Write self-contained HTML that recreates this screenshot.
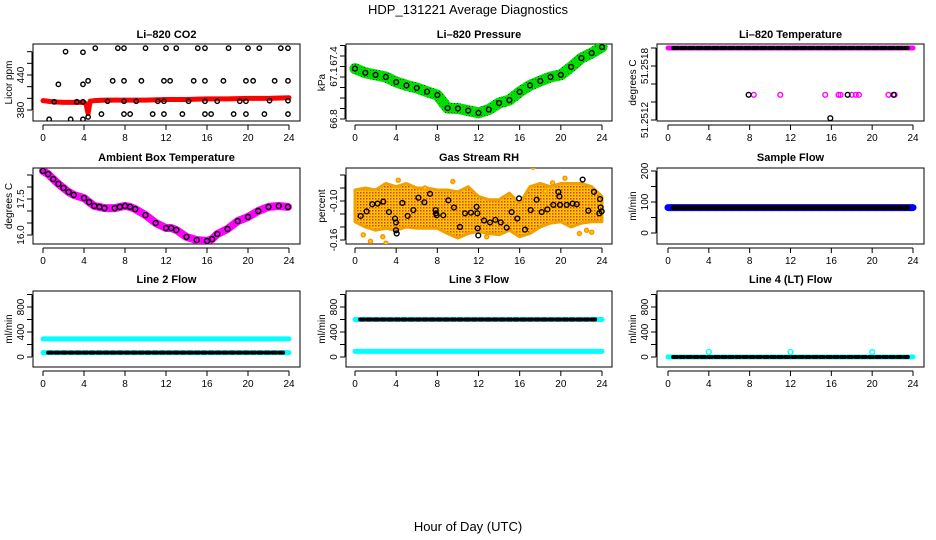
<!DOCTYPE html>
<html><head><meta charset="utf-8"><style>
html,body{margin:0;padding:0;background:#fff}
svg{display:block;font-family:"Liberation Sans",Arial,sans-serif}
.t{font-weight:bold;font-size:11px}
.tk{font-size:10px}
</style></head><body>
<svg id="s" width="936" height="540" viewBox="0 0 936 540" xmlns="http://www.w3.org/2000/svg">
<defs>
<pattern id="cloud" width="3" height="3" patternUnits="userSpaceOnUse"><rect width="3" height="3" fill="#ffd000"/><rect x="0" y="0" width="1.5" height="1.5" fill="#e8301a"/><rect x="1.5" y="1.5" width="1" height="1" fill="#ff9000"/></pattern>
<pattern id="greenp" width="3" height="3" patternUnits="userSpaceOnUse"><rect width="3" height="3" fill="#00e000"/><rect x="1" y="1" width="1" height="1" fill="#006000"/></pattern>
</defs>
<text x="468" y="14" text-anchor="middle" font-size="13">HDP_131221  Average Diagnostics</text>
<text x="468" y="531" text-anchor="middle" font-size="13">Hour of Day (UTC)</text>
</svg>
<script>
// ---------- data ----------
var hours = [0,1,2,3,4,5,6,7,8,9,10,11,12,13,14,15,16,17,18,19,20,21,22,23,24];
var xTicks = [0,4,8,12,16,20,24];
// CO2
var co2BandHours = [0,1,2,3,4,4.2,4.4,4.6,5,6,8,10,12,14,16,18,20,22,24];
var co2BandVals = [396,394,393,393,393,390,374,395,396,397,397,397,398,398,399,399,400,400,401];
var co2PtHours = [2.2,3.9,5.1,7.3,7.9,10,12,13,15.1,15.8,18.1,20,21.1,23.2,23.9, 1.5,3.9,4.4,6.8,7.9,9.6,11.8,12.4,14.7,15.8,17.6,19.8,20.5,22.6,23.9, 1.1,3.3,3.9,6.3,7.9,9.1,11.2,11.8,14.2,15.8,17,19.2,19.8,22.1,23.9, 0.6,2.7,3.9,4.4,5.7,7.9,8.5,10.7,11.8,13.6,15.8,16.4,18.6,19.8,21.6,23.9];
var co2PtVals = [480,479,486,486,486,486,486,486,486,486,486,486,486,486,486, 424,424,430,430,430,430,430,430,430,430,430,430,430,430,430, 394,394,394,395,395,395,395,395,395,395,395,395,395,396,396, 364,364,364,368,373,373,373,373,373,373,373,373,373,373,373,373];
// Pressure
var presVals = [67.04,67.02,67.01,67.0,66.976,66.96,66.948,66.93,66.914,66.852,66.85,66.84,66.829,66.845,66.876,66.89,66.929,66.96,66.981,67.0,67.01,67.048,67.09,67.114,67.143];
// Li-820 temperature
var ltTopVals = [51.2520,51.2520,51.2520,51.2520,51.2520,51.2520,51.2520,51.2520,51.2520,51.2520,51.2520,51.2520,51.2520,51.2520,51.2520,51.2520,51.2520,51.2520,51.2520,51.2520,51.2520,51.2520,51.2520,51.2520,51.2520];
var ltBlackHours = [7.9,17.6,22.1,15.9];
var ltBlackVals = [51.25148,51.25148,51.25148,51.25122];
var ltMagHours = [8.4,11,15.4,16.7,16.9,18,18.4,18.7,21.6,22.2];
var ltMagVals = [51.25148,51.25148,51.25148,51.25148,51.25148,51.25148,51.25148,51.25148,51.25148,51.25148];
// Ambient box temperature
var ambHours = [0,0.5,1,1.5,2,2.5,3,4,4.5,5,5.5,6,7,7.5,8,8.5,9,10,11,12,12.5,13,14,15,16,16.5,17,18,19,20,21,22,23,23.9];
var ambVals = [18.67,18.54,18.33,18.13,17.96,17.79,17.67,17.54,17.37,17.21,17.17,17.12,17.12,17.17,17.21,17.17,17.08,16.83,16.5,16.29,16.29,16.21,15.92,15.79,15.75,15.83,16.04,16.25,16.58,16.75,17.0,17.17,17.21,17.17];
// Gas stream RH
var rhHours = [0.55,1.13,1.68,2.2,2.75,3.3,3.89,3.98,3.98,4.05,4.6,5.12,5.67,6.16,6.74,7.29,7.84,7.87,7.94,8.58,9.07,9.62,10.2,10.69,11.27,11.82,11.89,11.92,11.98,12.54,13.12,13.64,14.16,14.74,15.22,15.77,15.94,16.52,17.07,17.65,18.14,18.69,19.27,19.76,19.86,19.92,20.57,21.15,21.54,22.12,22.67,23.22,23.74,23.81,23.87,23.97];
var rhVals = [-0.123,-0.116,-0.105,-0.104,-0.101,-0.117,-0.127,-0.133,-0.145,-0.150,-0.103,-0.123,-0.114,-0.095,-0.102,-0.089,-0.114,-0.119,-0.122,-0.122,-0.099,-0.110,-0.140,-0.119,-0.118,-0.109,-0.119,-0.142,-0.153,-0.130,-0.133,-0.129,-0.133,-0.141,-0.117,-0.127,-0.096,-0.144,-0.114,-0.098,-0.117,-0.113,-0.106,-0.086,-0.093,-0.106,-0.106,-0.104,-0.105,-0.067,-0.115,-0.086,-0.119,-0.097,-0.110,-0.116];
var rhUpper = [-0.083,-0.080,-0.083,-0.073,-0.078,-0.073,-0.080,-0.080,-0.083,-0.083,-0.086,-0.078,-0.093,-0.098,-0.098,-0.088,-0.104,-0.078,-0.073,-0.078,-0.073,-0.073,-0.073,-0.078,-0.093];
var rhLower = [-0.132,-0.140,-0.145,-0.142,-0.145,-0.140,-0.142,-0.142,-0.142,-0.150,-0.157,-0.150,-0.147,-0.150,-0.152,-0.145,-0.155,-0.150,-0.140,-0.134,-0.132,-0.140,-0.134,-0.132,-0.132];
var rhOutHours = [0.8,1.5,2.7,3.0,4.2,6.8,9.5,17.3,12.8,18.5,20.4,21.8,22.5,23.0,19.2];
var rhOutVals = [-0.152,-0.162,-0.155,-0.165,-0.068,-0.080,-0.070,-0.048,-0.155,-0.085,-0.065,-0.150,-0.145,-0.148,-0.072];
// Flows
var sampleVals = [82,82,82,82,82,82,82,82,82,82,82,82,82,82,82,82,82,82,82,82,82,82,82,82,82];
var l2Cyan = [290,290,290,290,290,290,290,290,290,290,290,290,290,290,290,290,290,290,290,290,290,290,290,290,290];
var l2Black = [70,70,70,70,70,70,70,70,70,70,70,70,70,70,70,70,70,70,70,70,70,70,70,70,70];
var l3Cyan = [90,90,90,90,90,90,90,90,90,90,90,90,90,90,90,90,90,90,90,90,90,90,90,90,90];
var l3Black = [600,600,600,600,600,600,600,600,600,600,600,600,600,600,600,600,600,600,600,600,600,600,600,600,600];
var l4Black = [0,0,0,0,0,0,0,0,0,0,0,0,0,0,0,0,0,0,0,0,0,0,0,0,0];
var l4SpikeHours = [4,12,20];
var l4SpikeVals = [80,80,80];
// y ticks
var co2Ticks = [380,400,420,440,460,480]; var co2Labels = ["380","","","440","",""];
var presTicks = [66.8,66.85,66.9,66.95,67.0,67.05,67.1,67.15]; var presLabels = ["66.8","","","","67.1","","67.4",""];
var ltTicks = [51.2512,51.2514,51.2516,51.2518,51.2520]; var ltLabels = ["51.2512","","","51.2518",""];
var ambTicks = [16.0,16.5,17.0,17.5,18.0,18.5]; var ambLabels = ["16.0","","","17.5","",""];
var rhTicks = [-0.16,-0.14,-0.12,-0.10,-0.08,-0.06]; var rhLabels = ["-0.16","","","-0.10","",""];
var sfTicks = [0,50,100,150,200]; var sfLabels = ["0","","100","","200"];
var flTicks = [0,200,400,600,800,1000]; var flLabels = ["0","","400","","800",""];

// ---------- drawing ----------
var NS="http://www.w3.org/2000/svg", svg=document.getElementById('s');
function mk(tag,attrs,parent){var e=document.createElementNS(NS,tag);for(var k in attrs)e.setAttribute(k,attrs[k]);(parent||svg).appendChild(e);return e;}
var cols=[{l:33,r:300,x0:43,x24:289},{l:346,r:612,x0:355,x24:602},{l:657,r:924,x0:668,x24:913}];
var rows=[{t:44,b:121,ty:38},{t:168,b:244,ty:161},{t:291,b:367,ty:283}];
function panel(name,title,ci,ri,v1,p1,v2,p2,ticks,labels,ylab){
  var c=cols[ci],r=rows[ri];
  var g=mk('g',{});
  
  
  var P={g:g,x:function(h){return c.x0+(c.x24-c.x0)*h/24;},y:function(v){return p1+(p2-p1)*(v-v1)/(v2-v1);}};
  var t=mk('text',{x:(c.l+c.r)/2,y:r.ty,'text-anchor':'middle','class':'t'},g);t.textContent=title;
  
  
  var yl=mk('text',{transform:'translate('+(c.l-21)+','+((r.t+r.b)/2)+') rotate(-90)','text-anchor':'middle','font-size':'10'},g);yl.textContent=ylab;
  
  
  var box=mk('rect',{x:c.l,y:r.t,width:c.r-c.l,height:r.b-r.t,fill:'none',stroke:'#000','stroke-width':1},g);
  
  
  var ax=mk('g',{},g);
  
  
  mk('line',{x1:P.x(0),x2:P.x(24),y1:r.b+4,y2:r.b+4,stroke:'#000'},ax);
  xTicks.forEach(function(h){mk('line',{x1:P.x(h),x2:P.x(h),y1:r.b+4,y2:r.b+9,stroke:'#000'},ax);
    var tt=mk('text',{x:P.x(h),y:r.b+20,'text-anchor':'middle','class':'tk'},ax);tt.textContent=h;});
  var ay=mk('g',{},g);
  
  
  var ya=P.y(ticks[0]),yb=P.y(ticks[ticks.length-1]);
  mk('line',{x1:c.l-1,x2:c.l-1,y1:ya,y2:yb,stroke:'#000'},ay);
  ticks.forEach(function(v,i){var yy=P.y(v);mk('line',{x1:c.l-6,x2:c.l-1,y1:yy,y2:yy,stroke:'#000'},ay);
    if(labels[i]){var tl=mk('text',{transform:'translate('+(c.l-9)+','+yy+') rotate(-90)','text-anchor':'middle','class':'tk'},ay);tl.textContent=labels[i];}});
  var clip='clip'+name;var cp=mk('clipPath',{id:clip},g);mk('rect',{x:c.l,y:r.t,width:c.r-c.l,height:r.b-r.t},cp);
  P.d=mk('g',{'clip-path':'url(#'+clip+')'},g);
  return P;
}
function line(P,hs,vs,color,w,name,dash){var pts=hs.map(function(h,i){return P.x(h)+','+P.y(vs[i]);}).join(' ');
  var e=mk('polyline',{points:pts,fill:'none',stroke:color,'stroke-width':w,'stroke-linejoin':'round','stroke-linecap':'round'},P.d);
  if(dash)e.setAttribute('stroke-dasharray',dash);
  
  return e;}
function pts(P,hs,vs,color,rad,name,fill){hs.forEach(function(h,i){var e=mk('circle',{cx:P.x(h),cy:P.y(vs[i]),r:rad,fill:fill||'none',stroke:color,'stroke-width':1.4},P.d);
  
  });}
function band(P,hs,up,lo,fill,name){var a=hs.map(function(h,i){return P.x(h)+','+P.y(up[i]);});var b=hs.map(function(h,i){return P.x(h)+','+P.y(lo[i]);}).reverse();
  var e=mk('polygon',{points:a.concat(b).join(' '),fill:fill,stroke:'#f0a000','stroke-width':3,'stroke-linejoin':'round'},P.d);
  
  }

var p=panel('co2-panel','Li\u2013820 CO2',0,0,380,110,440,75,co2Ticks,co2Labels,'Licor ppm');
line(p,co2BandHours,co2BandVals,'#ff0000',5,'co2-red-series');
pts(p,co2PtHours,co2PtVals,'#000',2.2,'co2-point');
p=panel('pressure-panel','Li\u2013820 Pressure',1,0,66.8,119,67.0,77,presTicks,presLabels,'kPa');
line(p,hours,presVals,'url(#greenp)',11,'pressure-green-series');
line(p,hours,presVals,'#00dd00',6,'pressure-green-core');
pts(p,hours,presVals,'#000',2.4,'pressure-point');
p=panel('li820-temp-panel','Li\u2013820 Temperature',2,0,51.2512,120,51.2520,48,ltTicks,ltLabels,'degrees C');
line(p,hours,ltTopVals,'#ff00ff',5,'li820-temp-magenta');
line(p,hours.slice(0,24).map(function(h){return h+0.5;}),ltTopVals.slice(0,24),'#000',4,'li820-temp-black','5,3');
pts(p,ltMagHours,ltMagVals,'#ff00ff',2.4,'li820-temp-magenta-point');
pts(p,ltBlackHours,ltBlackVals,'#000',2.4,'li820-temp-black-point');
p=panel('ambient-temp-panel','Ambient Box Temperature',0,1,16.0,235,17.5,199,ambTicks,ambLabels,'degrees C');
line(p,ambHours,ambVals,'#ff00ff',8,'ambient-magenta-series');
pts(p,ambHours,ambVals,'#000',2.5,'ambient-point');
p=panel('rh-panel','Gas Stream RH',1,1,-0.16,240,-0.10,201,rhTicks,rhLabels,'percent');
band(p,hours,rhUpper,rhLower,'url(#cloud)','rh-cloud');
pts(p,rhOutHours,rhOutVals,'#ff9000',2,'rh-outlier','#ffd000');
pts(p,rhHours,rhVals,'#000',2.4,'rh-point');
p=panel('sample-flow-panel','Sample Flow',2,1,0,233,200,171,sfTicks,sfLabels,'ml/min');
line(p,hours,sampleVals,'#0000ff',7,'sample-flow-blue');
line(p,hours.slice(0,24).map(function(h){return h+0.5;}),sampleVals.slice(0,24),'#000',5,'sample-flow-black','5,3');
p=panel('line2-flow-panel','Line 2 Flow',0,2,0,357,800,307,flTicks,flLabels,'ml/min');
line(p,hours,l2Cyan,'#00ffff',5,'line2-cyan');
line(p,hours,l2Black,'#00ffff',5,'line2-cyan-low');
line(p,hours.slice(0,24).map(function(h){return h+0.5;}),l2Black.slice(0,24),'#000',4,'line2-black','4,3');
p=panel('line3-flow-panel','Line 3 Flow',1,2,0,357,800,307,flTicks,flLabels,'ml/min');
line(p,hours,l3Cyan,'#00ffff',5,'line3-cyan');
line(p,hours,l3Black,'#00ffff',5,'line3-cyan-high');
line(p,hours.slice(0,24).map(function(h){return h+0.5;}),l3Black.slice(0,24),'#000',4,'line3-black','4,3');
p=panel('line4-flow-panel','Line 4 (LT) Flow',2,2,0,357,800,307,flTicks,flLabels,'ml/min');
line(p,hours,l4Black,'#00ffff',5,'line4-cyan');
line(p,hours.slice(0,24).map(function(h){return h+0.5;}),l4Black.slice(0,24),'#000',4,'line4-black','4,3');
pts(p,l4SpikeHours,l4SpikeVals,'#00ffff',2.4,'line4-spike');
</script>
</body></html>
